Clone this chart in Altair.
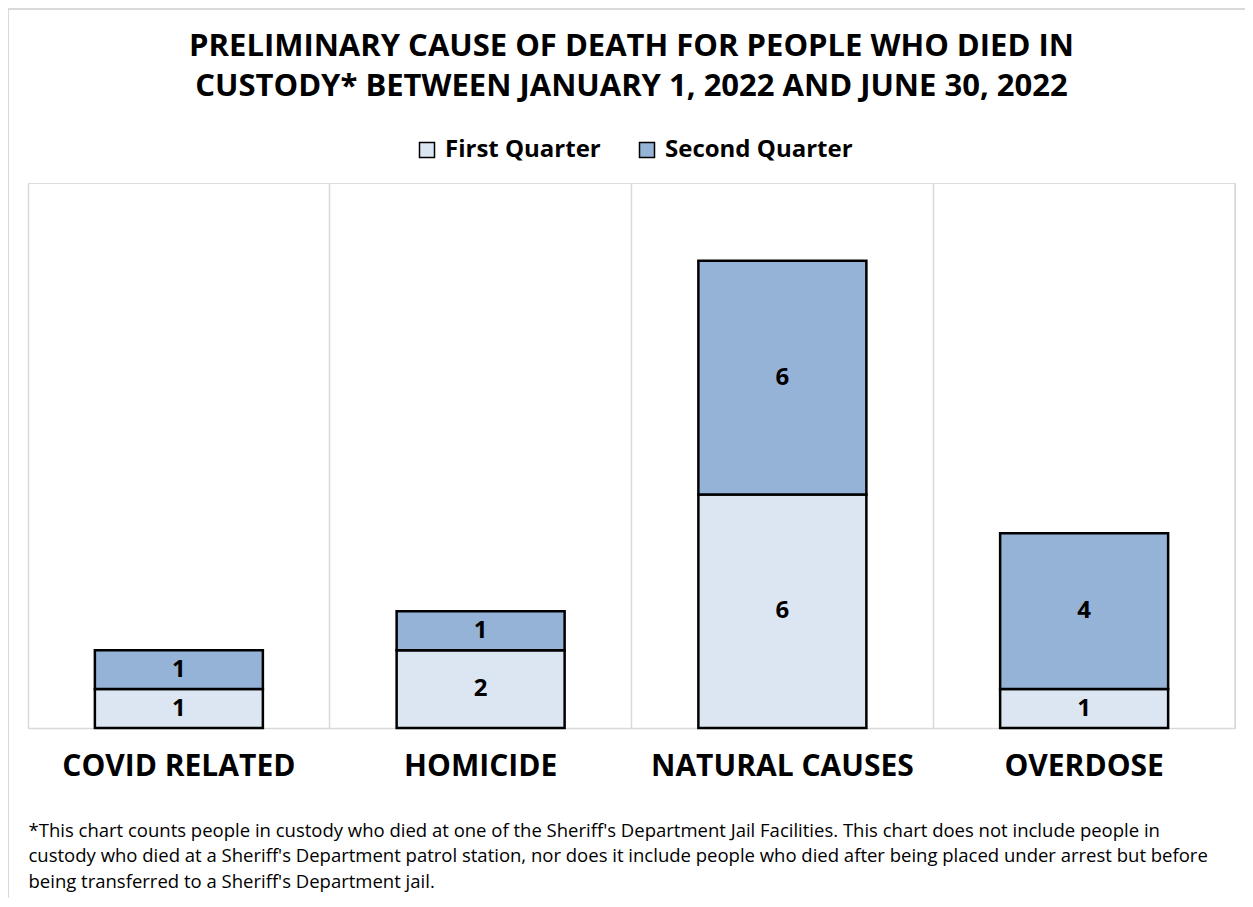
import altair as alt
import pandas as pd

causes = ["COVID RELATED", "HOMICIDE", "NATURAL CAUSES", "OVERDOSE"]
first_quarter = [1, 2, 6, 1]
second_quarter = [1, 1, 6, 4]
quarters = ["First Quarter", "Second Quarter"]
colors = ["#DCE6F2", "#95B3D7"]

title_lines = [
    "PRELIMINARY CAUSE OF DEATH FOR PEOPLE WHO DIED IN",
    "CUSTODY* BETWEEN JANUARY 1, 2022 AND JUNE 30, 2022",
]
footnote_lines = [
    "*This chart counts people in custody who died at one of the Sheriff's Department Jail Facilities. This chart does not include people in",
    "custody who died at a Sheriff's Department patrol station, nor does it include people who died after being placed under arrest but before",
    "being transferred to a Sheriff's Department jail.",
]

rows = []
for c, a, b in zip(causes, first_quarter, second_quarter):
    rows.append({"cause": c, "quarter": quarters[0], "order": 0, "value": a})
    rows.append({"cause": c, "quarter": quarters[1], "order": 1, "value": b})
df = pd.DataFrame(rows)

W, H = 1207, 545
FONT = "Open Sans"
GRAY = "#d9d9d9"

base = alt.Chart(df).transform_stack(
    stack="value", groupby=["cause"], as_=["y0", "y1"], sort=[alt.SortField("order")]
).transform_calculate(mid="(datum.y0 + datum.y1) / 2")

x_axis = alt.Axis(
    title=footnote_lines,
    titleFont=FONT,
    titleFontSize=18.5,
    titleFontWeight="normal",
    titleColor="black",
    titleLineHeight=25.5,
    titleAnchor="start",
    titleAlign="left",
    titleBaseline="top",
    titleX=0,
    titleY=93,
    labelFont=FONT,
    labelFontSize=30,
    labelFontWeight="bold",
    labelColor="black",
    labelAngle=0,
    labelPadding=23,
    labelLimit=500,
    bandPosition=0,
    ticks=False,
    grid=True,
    gridColor=GRAY,
    gridWidth=1.5,
    domain=True,
    domainColor=GRAY,
    domainWidth=1.5,
)

x_enc = alt.X(
    "cause:N",
    sort=causes,
    scale=alt.Scale(paddingInner=0, paddingOuter=0),
    axis=x_axis,
)

bars = base.mark_bar(size=168, stroke="black", strokeWidth=2.5).encode(
    x=x_enc,
    y=alt.Y("y0:Q", scale=alt.Scale(domain=[0, 14]), axis=None),
    y2="y1:Q",
    color=alt.Color(
        "quarter:N",
        scale=alt.Scale(domain=quarters, range=colors),
        legend=alt.Legend(
            title=None,
            orient="none",
            direction="horizontal",
            legendX=387,
            legendY=-45,
            symbolType="square",
            symbolSize=225,
            symbolStrokeColor="black",
            symbolStrokeWidth=1.5,
            symbolOpacity=1,
            labelFont=FONT,
            labelFontSize=24,
            labelFontWeight="bold",
            labelColor="black",
            labelOffset=6,
            labelLimit=400,
            columnPadding=34,
        ),
    ),
)

labels = base.mark_text(font=FONT, fontSize=24, fontWeight="bold", color="black").encode(
    x=alt.X("cause:N", sort=causes),
    y=alt.Y("mid:Q"),
    text="value:Q",
)

one = pd.DataFrame({"k": [0]})
right_edge = alt.Chart(one).mark_rule(color=GRAY, strokeWidth=1.5).encode(
    x=alt.value(W), y=alt.value(0), y2=alt.value(H)
)
border_left = alt.Chart(one).mark_rule(color=GRAY, strokeWidth=2).encode(
    x=alt.value(-20), y=alt.value(-174), y2=alt.value(H + 200)
)
border_top = alt.Chart(one).mark_rule(color=GRAY, strokeWidth=2).encode(
    x=alt.value(-20), x2=alt.value(W + 20), y=alt.value(-174)
)

chart = alt.layer(bars, labels, right_edge, border_left, border_top).properties(
    width=W,
    height=H,
    padding={"left": 20, "top": 175, "right": 10, "bottom": 170},
    autosize=alt.AutoSizeParams(type="none"),
    title=alt.Title(
        text=title_lines,
        font=FONT,
        fontSize=31,
        fontWeight="bold",
        color="black",
        anchor="middle",
        frame="group",
        lineHeight=40,
        offset=0,
        dy=95,
    ),
).configure_view(stroke=None).configure(background="white")

chart.save("out.html", embed_options={"renderer": "svg", "actions": False})
